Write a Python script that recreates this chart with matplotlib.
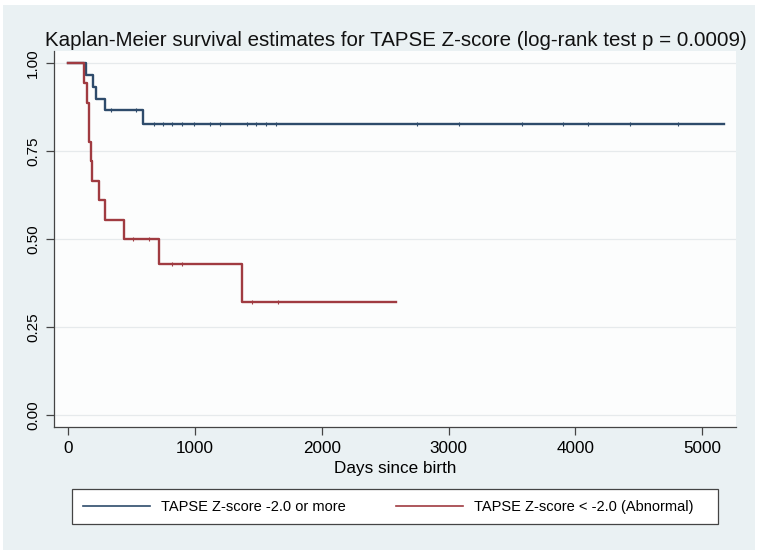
import matplotlib
matplotlib.use("Agg")
import matplotlib.pyplot as plt
import numpy as np
from matplotlib.patches import Rectangle

plt.rcParams['font.family'] = ['Liberation Sans', 'DejaVu Sans']

# ---- data ----
title = "Kaplan-Meier survival estimates for TAPSE Z-score (log-rank test p = 0.0009)"
xlabel = "Days since birth"
labels = ["TAPSE Z-score -2.0 or more", "TAPSE Z-score < -2.0 (Abnormal)"]

blue_times = [0, 142, 191, 221, 292, 589]
blue_surv = [1.0, 0.967, 0.933, 0.900, 0.867, 0.828]
blue_censor = [339, 535, 673, 747, 818, 897, 989, 1115, 1194, 1410, 1483, 1562,
               1641, 2752, 3080, 3580, 3904, 4104, 4435, 4814]
blue_end = 5175

red_times = [0, 120, 147, 160, 167, 180, 186, 239, 292, 443, 719, 1370]
red_surv = [1.0, 0.944, 0.889, 0.833, 0.778, 0.722, 0.667, 0.611, 0.556, 0.500,
            0.429, 0.321]
red_censor = [514, 638, 816, 900, 1446, 1656]
red_end = 2588

xticks = [0, 1000, 2000, 3000, 4000, 5000]
yticks = [0.0, 0.25, 0.5, 0.75, 1.0]
ytick_labels = ["0.00", "0.25", "0.50", "0.75", "1.00"]

colors = ['#2e4b6b', '#a03b41']

W, H = 760, 555
fig = plt.figure(figsize=(W / 100, H / 100), dpi=100)
fig.patch.set_facecolor('white')
fig.patches.append(Rectangle((3 / W, 5 / H), 752 / W, 545 / H, transform=fig.transFigure,
                             facecolor='#eaf1f3', edgecolor='none', zorder=-10))

ax = fig.add_axes([54 / W, 1 - 427 / H, (736 - 54) / W, (427 - 51) / H])
ax.set_facecolor('#fcfdfd')

def stepfun(times, surv, t):
    idx = np.searchsorted(times, t, side='right') - 1
    return np.asarray(surv)[idx]

for times, surv, cens, end, c, lab in [
        (blue_times, blue_surv, blue_censor, blue_end, colors[0], labels[0]),
        (red_times, red_surv, red_censor, red_end, colors[1], labels[1])]:
    xs = list(times) + [end]
    ys = list(surv) + [surv[-1]]
    ax.step(xs, ys, where='post', color=c, lw=1.7, label=lab, zorder=3)
    ax.plot(cens, stepfun(times, surv, cens), linestyle='none', marker='|',
            markersize=2.6, markeredgewidth=0.8, color=c, zorder=3)

ax.set_xlim(-113, 5268)
ax.set_ylim(-0.0327, 1.0355)
ax.set_xticks(xticks)
ax.set_yticks(yticks)
ax.set_yticklabels(ytick_labels, rotation=90, va='center')
ax.grid(True, axis='y', color='#e6eaec', lw=0.9)
ax.set_axisbelow(True)
for s in ['top', 'right']:
    ax.spines[s].set_visible(False)
for s in ['left', 'bottom']:
    ax.spines[s].set_color('#444444')
    ax.spines[s].set_linewidth(0.9)
ax.tick_params(axis='both', direction='out', length=6, width=0.9, color='#444444',
               labelsize=12.3, labelcolor='black', pad=4)
ax.tick_params(axis='y', labelsize=11)
ax.set_xlabel(xlabel, fontsize=12.3, labelpad=4)

fig.text(395.5 / W, 1 - 40 / H, title, ha='center', va='center', fontsize=14.8, color='#111111')

# legend box (frame drawn separately) and entries
fig.patches.append(Rectangle((72.3 / W, 1 - 524 / H), (718.3 - 72.3) / W, 35 / H,
                             transform=fig.transFigure, facecolor='white',
                             edgecolor='#444444', linewidth=0.9, zorder=-5))
leg = ax.legend(loc='lower left', bbox_to_anchor=(72.3 / W, 1 - 524 / H, (704 - 72.3) / W, 35 / H),
                bbox_transform=fig.transFigure, mode='expand', ncol=2, fontsize=10.5,
                frameon=False, borderaxespad=0, handlelength=4.6,
                handletextpad=0.8, columnspacing=2.0, borderpad=0.7)
for h in leg.get_lines():
    h.set_linewidth(1.2)

fig.savefig('out.png', dpi=100, facecolor=fig.get_facecolor())
